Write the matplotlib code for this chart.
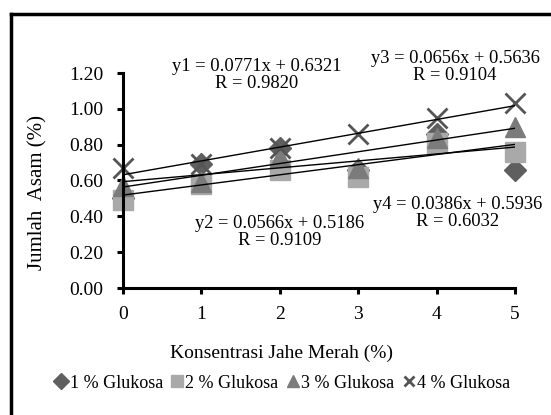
import matplotlib
matplotlib.use("Agg")
import matplotlib.pyplot as plt
from matplotlib.lines import Line2D
import numpy as np

plt.rcParams["font.family"] = ["Liberation Serif", "DejaVu Serif"]

konsentrasi = [0, 1, 2, 3, 4, 5]
glukosa_1 = [0.50, 0.69, 0.78, 0.66, 0.86, 0.66]
glukosa_2 = [0.49, 0.58, 0.66, 0.62, 0.81, 0.76]
glukosa_3 = [0.57, 0.59, 0.73, 0.67, 0.84, 0.90]
glukosa_4 = [0.67, 0.69, 0.78, 0.86, 0.95, 1.03]
labels = ["1 % Glukosa", "2 % Glukosa", "3 % Glukosa", "4 % Glukosa"]

# trendline equations as printed on the chart
slopes = [0.0771, 0.0566, 0.0656, 0.0386]
intercepts = [0.6321, 0.5186, 0.5636, 0.5936]
eq_text = ["y1 = 0.0771x + 0.6321\nR = 0.9820",
           "y2 = 0.0566x + 0.5186\nR = 0.9109",
           "y3 = 0.0656x + 0.5636\nR = 0.9104",
           "y4 = 0.0386x + 0.5936\nR = 0.6032"]

W, H = 551, 415
fig = plt.figure(figsize=(W / 100, H / 100), dpi=100)
ax = fig.add_axes([123 / W, 1 - 288 / H, (515 - 123) / W, (288 - 73) / H])

styles = [
    dict(marker="D", color="#5f5f5f", ms=11, ls="none"),
    dict(marker="s", color="#a9a9a9", ms=15, ls="none"),
    dict(marker="^", color="#7b7b7b", ms=15, ls="none"),
    dict(marker="x", color="#555555", ms=14, mew=2, ls="none"),
]
series = [glukosa_1, glukosa_2, glukosa_3, glukosa_4]
for vals, st, lab in zip(series, styles, labels):
    ax.plot(konsentrasi, vals, label=lab, clip_on=False, **st)

xs = np.array([konsentrasi[0], konsentrasi[-1]])
for m, b in zip(slopes, intercepts):
    ax.plot(xs, m * xs + b, color="black", lw=1)

ax.set_xlim(0, 5)
ax.set_ylim(0, 1.2)
yt = np.arange(0, 1.21, 0.2)
ax.set_yticks(yt)
ax.set_yticklabels([f"{v:.2f}" for v in yt])
ax.set_xticks(konsentrasi)
for s in ["top", "right"]:
    ax.spines[s].set_visible(False)
for s in ["left", "bottom"]:
    ax.spines[s].set_linewidth(2.2)
ax.tick_params(axis="both", direction="out", length=4, width=2.2, labelsize=14)
ax.tick_params(axis="y", pad=10)
ax.tick_params(axis="x", pad=9)

fig.text(282 / W, 1 - 353 / H, "Konsentrasi Jahe Merah (%)", fontsize=14,
         ha="center", va="center")
fig.text(38 / W, 1 - 192 / H, "Jumlah  Asam (%)", rotation=90, fontsize=15,
         ha="center", va="center")

# equation labels (pixel centres)
eq_pos = [(257, 75), (280, 232), (455, 67), (458, 213)]
for txt, (px, py) in zip(eq_text, eq_pos):
    fig.text(px / W, 1 - py / H, txt, fontsize=13.3, ha="center", va="center",
             linespacing=1.05)

leg_handles = [Line2D([], [], marker=st["marker"], color=st["color"], ls="none",
                      ms=8 if st["marker"] != "x" else 7,
                      mew=st.get("mew", 1)) for st in styles]
fig.legend(leg_handles, labels, loc="center", bbox_to_anchor=(283 / W, 1 - 383 / H),
           ncol=4, frameon=False, fontsize=13, handlelength=0.6, handletextpad=0.15,
           columnspacing=0.5)

# outer frame (only top and left edges are visible in the crop)
fig.add_artist(Line2D([11 / W, 1.0], [1 - 14 / H, 1 - 14 / H], color="black", lw=2.5))
fig.add_artist(Line2D([11 / W, 11 / W], [0, 1 - 14 / H], color="black", lw=2.5))

fig.savefig("out.png", dpi=100)
